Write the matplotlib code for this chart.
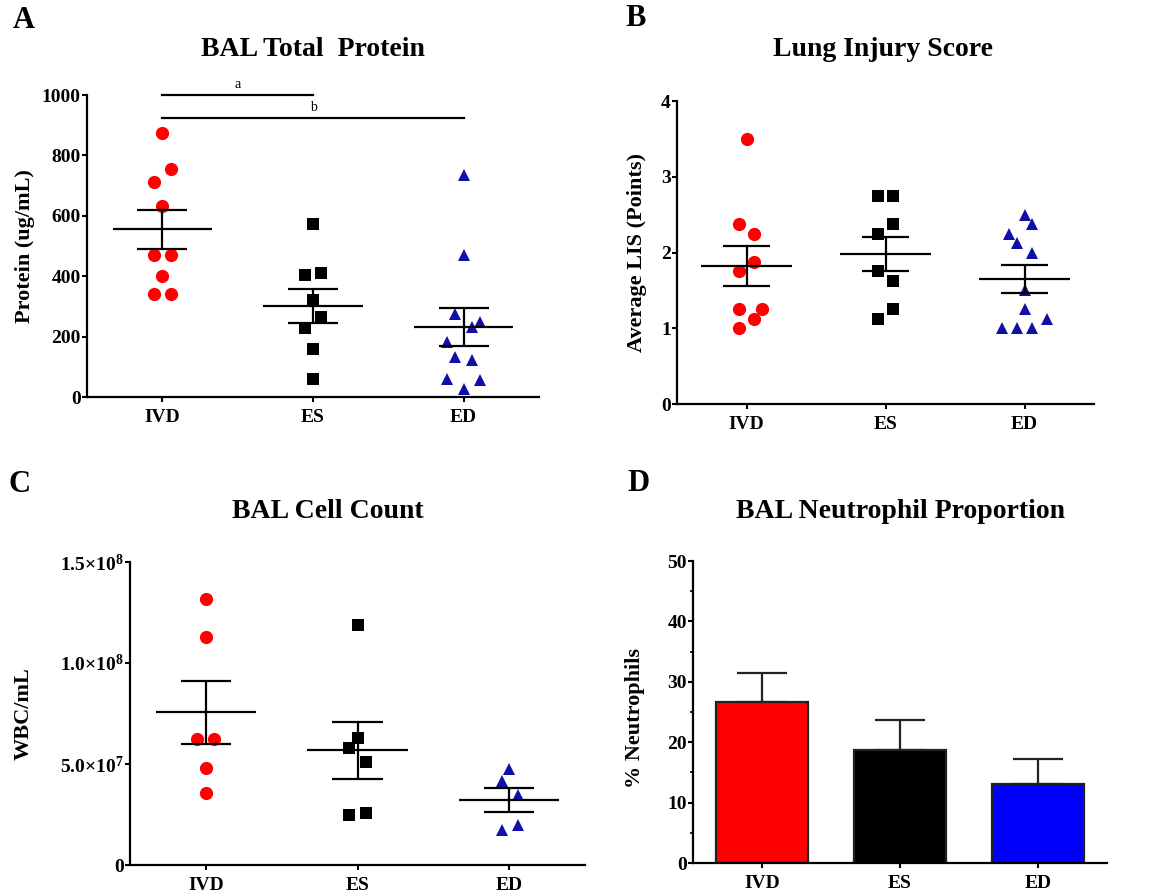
import numpy as np
import matplotlib
matplotlib.use("Agg")
import matplotlib.pyplot as plt

plt.rcParams['font.family'] = 'Liberation Serif'
plt.rcParams['font.weight'] = 'bold'
plt.rcParams['axes.labelweight'] = 'bold'
plt.rcParams['mathtext.fontset'] = 'custom'
plt.rcParams['mathtext.rm'] = 'Liberation Serif:bold'
plt.rcParams['mathtext.default'] = 'rm'

groups = ["IVD", "ES", "ED"]

# A - BAL total protein (ug/mL)
protein_ivd = [875, 756, 712, 633, 471, 471, 400, 340, 340]
protein_es = [573, 404, 409, 321, 266, 227, 158, 58]
protein_ed = [734, 471, 275, 249, 233, 183, 133, 122, 58, 55, 28]

# B - lung injury score
lis_ivd = [3.5, 2.375, 2.25, 1.875, 1.75, 1.25, 1.25, 1.125, 1.0]
lis_es = [2.75, 2.75, 2.375, 2.25, 1.75, 1.625, 1.25, 1.125]
lis_ed = [2.5, 2.375, 2.25, 2.125, 2.0, 1.5, 1.25, 1.125, 1.0, 1.0, 1.0]

# C - BAL cell count (WBC/mL)
wbc_ivd = [1.318e8, 1.128e8, 6.26e7, 6.26e7, 4.79e7, 3.58e7]
wbc_es = [1.189e8, 6.29e7, 5.78e7, 5.09e7, 2.56e7, 2.49e7]
wbc_ed = [4.75e7, 4.15e7, 3.45e7, 1.75e7, 2.0e7]

# D - neutrophil proportion (%), mean and SEM
neut_mean = [26.6, 18.7, 13.1]
neut_sem = [4.9, 4.9, 4.2]

# horizontal scatter of the dots (category units)
jit_a = [[0, 0.056, -0.056, 0, -0.056, 0.056, 0, -0.056, 0.056],
         [0, -0.056, 0.056, 0, 0.056, -0.056, 0, 0],
         [0, 0, -0.056, 0.11, 0.056, -0.11, -0.056, 0.056, -0.11, 0.11, 0]]
jit_b = [[0, -0.053, 0.053, 0.053, -0.053, -0.053, 0.108, 0.053, -0.053],
         [-0.055, 0.053, 0.053, -0.055, -0.055, 0.053, 0.053, -0.055],
         [0, 0.055, -0.11, -0.055, 0.055, 0, 0, 0.165, -0.165, -0.055, 0.055]]
jit_c = [[0, 0, -0.055, 0.055, 0, 0],
         [0, 0, -0.055, 0.055, 0.055, -0.055],
         [0, -0.05, 0.055, -0.05, 0.055]]

red = '#FF0000'
blue_dot = '#1010A8'
styles = [('o', red, 9.5), ('s', 'black', 8), ('^', blue_dot, 9)]


def style_axes(ax):
    for s in ['top', 'right']:
        ax.spines[s].set_visible(False)
    for s in ['left', 'bottom']:
        ax.spines[s].set_linewidth(1.6)
    ax.tick_params(axis='y', direction='out', length=3.5, width=1.5, labelsize=14, pad=1)
    ax.tick_params(axis='x', direction='out', length=3.5, width=1.5, labelsize=14, pad=5)
    ax.set_xlim(-0.5, 2.5)
    ax.set_xticks(range(3))
    ax.set_xticklabels(groups)


def dot_panel(ax, data, jit):
    for i, (vals, offs) in enumerate(zip(data, jit)):
        mk, col, ms = styles[i]
        vals = np.array(vals)
        ax.plot(i + np.array(offs), vals, linestyle='none', marker=mk, color=col,
                ms=ms, mew=0, zorder=3, clip_on=False)
        m = vals.mean()
        se = vals.std(ddof=1) / np.sqrt(len(vals))
        ax.hlines(m, i - 0.33, i + 0.33, color='black', lw=1.6, zorder=4)
        ax.hlines([m - se, m + se], i - 0.167, i + 0.167, color='black', lw=1.6, zorder=4)
        ax.vlines(i, m - se, m + se, color='black', lw=1.6, zorder=4)
    style_axes(ax)


fig = plt.figure(figsize=(11.53, 8.96), dpi=100)
W, H = 1153, 896


def px_axes(x0, x1, ytop, ybot):
    return fig.add_axes([x0 / W, 1 - ybot / H, (x1 - x0) / W, (ybot - ytop) / H])


# A
axA = px_axes(87, 539, 95, 397)
dot_panel(axA, [protein_ivd, protein_es, protein_ed], jit_a)
axA.set_ylim(0, 1000)
axA.set_yticks([0, 200, 400, 600, 800, 1000])
axA.set_ylabel("Protein (ug/mL)", fontsize=16, va='center')
axA.yaxis.set_label_coords((25 - 87) / 452, 0.5)
axA.plot([0, 1], [1000, 1000], color='black', lw=1.6, clip_on=False)
axA.plot([0, 2], [925, 925], color='black', lw=1.6, clip_on=False)
axA.text(0.5, 1012, "a", ha='center', va='bottom', fontsize=10, fontweight='normal')
axA.text(1.0, 937, "b", ha='center', va='bottom', fontsize=10, fontweight='normal')

# B
axB = px_axes(677, 1094, 101, 404)
dot_panel(axB, [lis_ivd, lis_es, lis_ed], jit_b)
axB.set_ylim(0, 4)
axB.set_yticks([0, 1, 2, 3, 4])
axB.set_ylabel("Average LIS (Points)", fontsize=16, va='center')
axB.yaxis.set_label_coords((637 - 677) / 417, 0.5)

# C
axC = px_axes(130, 585, 562, 865)
dot_panel(axC, [wbc_ivd, wbc_es, wbc_ed], jit_c)
axC.set_ylim(0, 1.5e8)
axC.set_yticks([0, 5e7, 1e8, 1.5e8])
axC.set_yticklabels(["0", "5.0×10$^{7}$", "1.0×10$^{8}$", "1.5×10$^{8}$"])
axC.set_ylabel("WBC/mL", fontsize=16, va='center')
axC.yaxis.set_label_coords((24 - 130) / 455, 0.5)

# D
axD = px_axes(693, 1107, 561, 863)
bar_cols = [red, 'black', '#0000FF']
axD.bar(range(3), neut_mean, width=0.67, color=bar_cols, edgecolor='#222222',
        linewidth=1.6, zorder=2)
axD.errorbar(range(3), neut_mean, yerr=[np.zeros(3), neut_sem], fmt='none',
             ecolor='#222222', elinewidth=1.6, capsize=18, capthick=1.6, zorder=1)
style_axes(axD)
axD.set_ylim(0, 50)
axD.set_yticks([0, 10, 20, 30, 40, 50])
axD.set_yticks(np.arange(5, 50, 10), minor=True)
axD.tick_params(axis='y', which='minor', length=2, width=1.2)
axD.set_ylabel("% Neutrophils", fontsize=16, va='center')
axD.yaxis.set_label_coords((635 - 693) / 414, 0.48)

# titles and panel letters
fig.text(313 / W, 1 - 50 / H, "BAL Total  Protein", ha='center', va='center', fontsize=20)
fig.text(883 / W, 1 - 50 / H, "Lung Injury Score", ha='center', va='center', fontsize=20)
fig.text(328 / W, 1 - 512 / H, "BAL Cell Count", ha='center', va='center', fontsize=20)
fig.text(901 / W, 1 - 512 / H, "BAL Neutrophil Proportion", ha='center', va='center', fontsize=20)
for lab, x, y in [("A", 24, 21), ("B", 636, 18), ("C", 20, 484), ("D", 638, 483)]:
    fig.text(x / W, 1 - y / H, lab, ha='center', va='center', fontsize=22)

fig.savefig("out.png", dpi=100)
